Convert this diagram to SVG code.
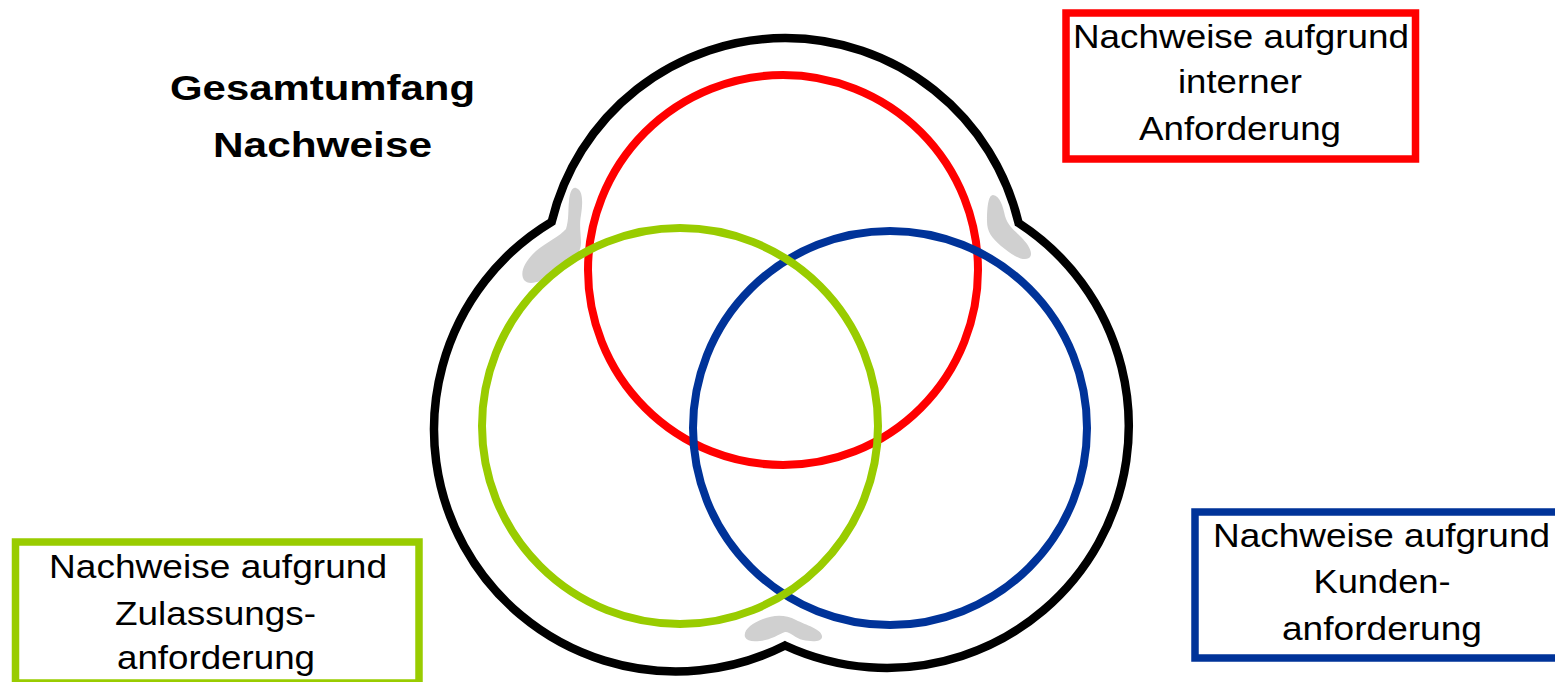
<svg xmlns="http://www.w3.org/2000/svg" width="1555" height="682" viewBox="0 0 1555 682">
<style>
.t{font-family:"Liberation Sans",Arial,sans-serif;font-size:32.5px;fill:#000;text-anchor:middle}
.b{font-family:"Liberation Sans",Arial,sans-serif;font-size:35.5px;font-weight:bold;fill:#000;text-anchor:middle}
.c{fill:none;stroke-width:8}
.blob{fill:#d0d0d0}
.box{fill:#fff;stroke-width:7.5}
</style>
<rect width="1555" height="682" fill="#fff"/>
<g id="outer">
<path d="M551.7 221.8 A240 240 0 0 1 1018.6 223 A242 242 0 0 1 785 645.5 A242 242 0 0 1 551.7 221.8 Z" fill="none" stroke="#000" stroke-width="8.5" stroke-linejoin="miter"/>
</g>
<g id="shadows">
<path class="blob" d="M576 188 C583 190 583 202 581 215 C579 226 581 234 581 243 C581 256 568 266 552 275 C540 282 529 286 524 280 C519 272 526 260 536 251 C547 242 560 236 566 229 C569 220 568 210 569 201 C570 192 572 187 576 188 Z"/>
<path class="blob" d="M993 195 C1000 196 1003 206 1005 216 C1008 226 1014 230 1021 237 C1029 245 1034 254 1029 258 C1022 262 1011 254 1001 246 C992 238 987 232 987 221 C987 209 988 195 993 195 Z"/>
<path class="blob" d="M745 637 C743 630 752 623 763 619 C773 615 785 614 796 620 C806 625 821 629 822 636 C823 642 812 642 803 640 C795 638 789 631 785 632 C778 635 770 640 760 641 C752 642 747 641 745 637 Z"/>
</g>
<g id="red-circle"><circle class="c" cx="783" cy="270" r="195" stroke="#ff0000"/></g>
<g id="blue-circle"><circle class="c" cx="890" cy="428" r="197" stroke="#003399"/></g>
<g id="green-circle"><circle class="c" cx="680" cy="426" r="198" stroke="#99cc00"/></g>
<g id="title">
<text class="b" x="322.5" y="100" textLength="305" lengthAdjust="spacingAndGlyphs">Gesamtumfang</text>
<text class="b" x="322.5" y="157" textLength="219" lengthAdjust="spacingAndGlyphs">Nachweise</text>
</g>
<g id="box-intern">
<rect class="box" x="1066" y="13" width="349.5" height="146" stroke="#ff0000"/>
<text class="t" x="1241" y="48" textLength="336" lengthAdjust="spacingAndGlyphs">Nachweise aufgrund</text>
<text class="t" x="1240" y="93" textLength="124" lengthAdjust="spacingAndGlyphs">interner</text>
<text class="t" x="1240" y="140" textLength="202" lengthAdjust="spacingAndGlyphs">Anforderung</text>
</g>
<g id="box-zulassung">
<rect class="box" x="15.5" y="542" width="403.5" height="141" stroke="#99cc00"/>
<text class="t" x="218" y="578" textLength="338" lengthAdjust="spacingAndGlyphs">Nachweise aufgrund</text>
<text class="t" x="215.5" y="625" textLength="201" lengthAdjust="spacingAndGlyphs">Zulassungs-</text>
<text class="t" x="216" y="669" textLength="198" lengthAdjust="spacingAndGlyphs">anforderung</text>
</g>
<g id="box-kunde">
<rect class="box" x="1195" y="512" width="365" height="146" stroke="#003399"/>
<text class="t" x="1381.5" y="547" textLength="337" lengthAdjust="spacingAndGlyphs">Nachweise aufgrund</text>
<text class="t" x="1382" y="593" textLength="137" lengthAdjust="spacingAndGlyphs">Kunden-</text>
<text class="t" x="1382" y="640" textLength="200" lengthAdjust="spacingAndGlyphs">anforderung</text>
</g>
</svg>
